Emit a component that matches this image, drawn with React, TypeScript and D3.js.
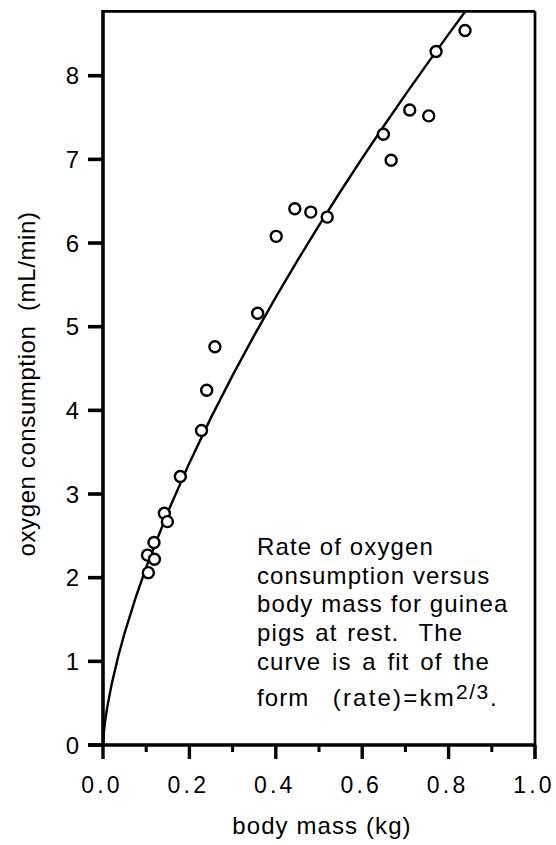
import * as React from "react";
import * as d3 from "d3";

// guinea pig data
const bodyMass = [0.105, 0.103, 0.119, 0.118, 0.142, 0.149, 0.179, 0.228, 0.24, 0.259, 0.358, 0.401, 0.444, 0.481, 0.519, 0.649, 0.667, 0.71, 0.754, 0.771, 0.838];
const oxygenRate = [2.06, 2.27, 2.22, 2.42, 2.77, 2.67, 3.21, 3.76, 4.24, 4.76, 5.16, 6.08, 6.41, 6.37, 6.31, 7.3, 6.99, 7.59, 7.52, 8.29, 8.54];

// fit (rate) = k m^(2/3)
const fitK = 9.86;
const fitMass = [0, 0.002, 0.005, 0.01, 0.02, 0.035, 0.05, 0.075, 0.1, 0.15, 0.2, 0.25, 0.3, 0.35, 0.4, 0.45, 0.5, 0.55, 0.6, 0.65, 0.7, 0.75, 0.8, 0.85];

const xTicks = [0, 0.2, 0.4, 0.6, 0.8, 1.0];
const xMinorTicks = [0.1, 0.3, 0.5, 0.7, 0.9];
const yTicks = [0, 1, 2, 3, 4, 5, 6, 7, 8];

const NB = "\u00a0";
const noteLines = [
  "Rate of oxygen",
  "consumption versus",
  "body mass for guinea",
  "pigs at rest." + NB + " The",
  "curve is a fit of the",
];
const noteWordSpacing = [0, 0, 0, 2, 3];

const font = "'Liberation Sans', Arial, Helvetica, sans-serif";

const App = () => {
  const width = 556;
  const height = 845;
  const left = 103, right = 535, top = 11.3, bottom = 745;

  const x = d3.scaleLinear().domain([0, 1]).range([left, right]);
  const y = d3.scaleLinear().domain([0, 8.77]).range([bottom, top]);

  const line = d3
    .line<number>()
    .x(m => x(m))
    .y(m => y(fitK * Math.pow(m, 2 / 3)));

  return (
    <svg
      width={width}
      height={height}
      style={{ position: "absolute", left: 0, top: 0, background: "#fff" }}
      fontFamily={font}
    >
      <defs>
        <clipPath id="plot">
          <rect x={left} y={top} width={right - left} height={bottom - top} />
        </clipPath>
      </defs>

      {/* frame top and right */}
      <line x1={left} x2={right} y1={top} y2={top} stroke="#000" strokeWidth={2.7} />
      <line x1={right} x2={right} y1={top} y2={bottom + 14} stroke="#000" strokeWidth={2.7} />

      {/* fit curve */}
      <path d={line(fitMass) || ""} fill="none" stroke="#000" strokeWidth={2.4} clipPath="url(#plot)" />

      {/* data points */}
      {bodyMass.map((m, i) => (
        <circle key={i} cx={x(m)} cy={y(oxygenRate[i])} r={5.5} fill="#fff" stroke="#000" strokeWidth={2.4} />
      ))}

      {/* axes */}
      <line x1={left} x2={left} y1={top - 1.3} y2={bottom} stroke="#000" strokeWidth={3.6} />
      <line x1={left - 15} x2={right} y1={bottom} y2={bottom} stroke="#000" strokeWidth={3.6} />

      {yTicks.map(t => (
        <g key={"y" + t}>
          <line x1={left - 15} x2={left} y1={y(t)} y2={y(t)} stroke="#000" strokeWidth={3.6} />
          <text x={79} y={y(t)} dy="0.36em" textAnchor="end" fontSize={24}>
            {t}
          </text>
        </g>
      ))}

      {xTicks.map(t => (
        <g key={"x" + t}>
          <line x1={x(t)} x2={x(t)} y1={bottom} y2={bottom + 14} stroke="#000" strokeWidth={3.4} />
          <text x={x(t) - 1} y={792.5} textAnchor="middle" fontSize={23} letterSpacing={3.2}>
            {d3.format(".1f")(t)}
          </text>
        </g>
      ))}
      {xMinorTicks.map(t => (
        <line key={"m" + t} x1={x(t)} x2={x(t)} y1={bottom} y2={bottom + 7} stroke="#000" strokeWidth={3} />
      ))}

      {/* axis titles */}
      <text x={322} y={834} textAnchor="middle" fontSize={24} letterSpacing={1.1}>
        body mass (kg)
      </text>
      <text transform="translate(35,384) rotate(-90)" textAnchor="middle" fontSize={24} letterSpacing={0.6}>
        {"oxygen consumption" + NB + " (mL/min)"}
      </text>

      {/* note */}
      <g fontSize={24} letterSpacing={1.1}>
        {noteLines.map((s, i) => (
          <text key={i} x={257} y={555 + i * 28.7} wordSpacing={noteWordSpacing[i]}>
            {s}
          </text>
        ))}
        <text x={257} y={706}>
          {"form" + NB + NB + " "}
          <tspan letterSpacing={2.2}>(rate)=km</tspan>
          <tspan fontSize={21} letterSpacing={1.6} dy={-7}>2/3</tspan>
          <tspan dy={7}>.</tspan>
        </text>
      </g>
    </svg>
  );
};

export default App;
